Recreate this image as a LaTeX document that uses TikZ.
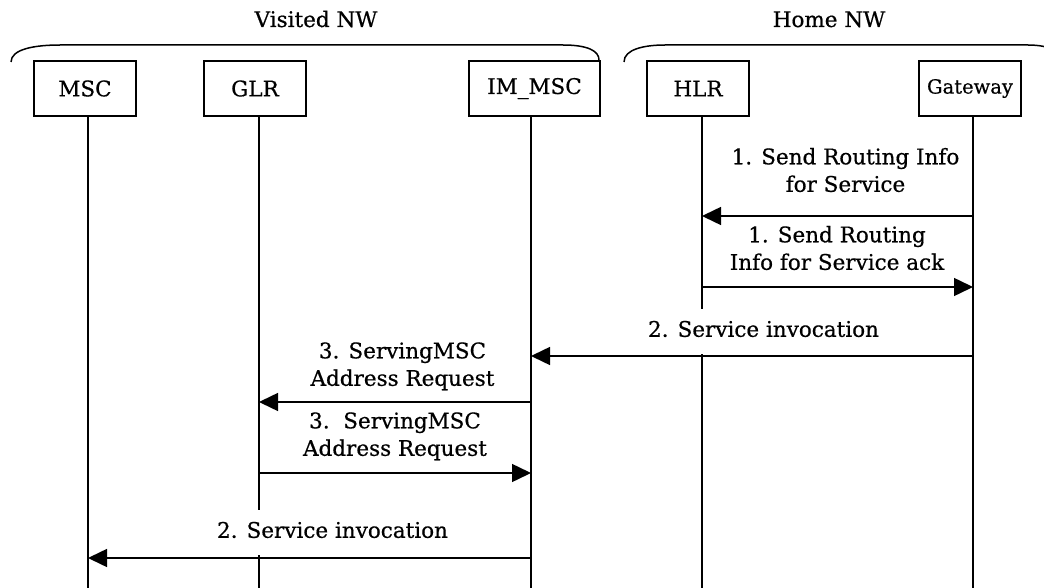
\documentclass[tikz,border=0pt]{standalone}
\usepackage{fontspec}
\setmainfont[FakeBold=0.6]{DejaVu Serif}
\usetikzlibrary{arrows.meta}
\begin{document}
\begin{tikzpicture}[x=1pt,y=1pt,
  ent/.style={draw, line width=1.5pt, minimum width=102pt, minimum height=55pt, inner sep=0pt, font=\fontsize{21.5}{26}\selectfont},
  life/.style={line width=1.5pt},
  msg/.style={line width=1.5pt, -{Triangle[length=19pt,width=18pt]}},
  lbl/.style={fill=white, align=center, inner xsep=4pt, inner ysep=9pt, anchor=south, font=\fontsize{21.5}{27.5}\selectfont},
  ttl/.style={anchor=base, font=\fontsize{21.5}{26}\selectfont},
  brace/.style={line width=1.5pt}]
\useasboundingbox (0,0) rectangle (1044,-588);
\clip (0,0) rectangle (1044,-588);

% titles
\node[ttl] (visited) at (316,-27) {Visited NW};
\node[ttl] (home) at (829,-27) {Home NW};

% network brackets
\draw[brace] (11,-62) .. controls (11,-49) and (35,-45) .. (60,-45) -- (563,-45) .. controls (588,-45) and (599,-51) .. (599,-60);
\draw[brace] (624,-62) .. controls (624,-49) and (645,-45) .. (665,-45) -- (1028,-45) .. controls (1050,-45) and (1062,-52) .. (1062,-62);

% entities
\node[ent] (msc) at (85,-88.5) {MSC};
\node[ent] (glr) at (255,-88.5) {GLR};
\node[ent, minimum width=131pt] (immsc) at (534.5,-88.5) {IM\_MSC};
\node[ent] (hlr) at (698,-88.5) {HLR};
\node[ent, font=\fontsize{19.5}{24}\selectfont] (gw) at (970,-88.5) {Gateway};

% lifelines
\coordinate (mscL) at ([xshift=3pt]msc.south);
\coordinate (glrL) at ([xshift=4pt]glr.south);
\coordinate (imL) at ([xshift=-3.5pt]immsc.south);
\coordinate (hlrL) at ([xshift=4pt]hlr.south);
\coordinate (gwL) at ([xshift=3pt]gw.south);
\coordinate (bot) at (0,-588);
\foreach \c in {mscL,glrL,imL,hlrL,gwL} \draw[life] (\c) -- (\c |- bot);

% message labels
\node[lbl] (t1) at (845.5,-209.25) {\strut 1. Send Routing Info\\\strut for Service};
\node[lbl] (t2) at (837,-287.25) {\strut 1. Send Routing\\\strut Info for Service ack};
\node[lbl] (t3) at (763.5,-354.25) {\strut 2. Service invocation};
\node[lbl] (t4) at (402.5,-403.25) {\strut 3. ServingMSC\\\strut Address Request};
\node[lbl] (t5) at (395,-473.25) {\strut 3.\ \ ServingMSC\\\strut Address Request};
\node[lbl] (t6) at (332.5,-555.25) {\strut 2. Service invocation};

% message levels
\coordinate (y1) at (0,-216);
\coordinate (y2) at (0,-287);
\coordinate (y3) at (0,-356);
\coordinate (y4) at (0,-402);
\coordinate (y5) at (0,-473);
\coordinate (y6) at (0,-558);

% messages
\draw[msg] (gwL |- y1) -- (hlrL |- y1);
\draw[msg] (hlrL |- y2) -- (gwL |- y2);
\draw[msg] (gwL |- y3) -- (imL |- y3);
\draw[msg] (imL |- y4) -- (glrL |- y4);
\draw[msg] (glrL |- y5) -- (imL |- y5);
\draw[msg] (imL |- y6) -- (mscL |- y6);
\end{tikzpicture}
\end{document}
